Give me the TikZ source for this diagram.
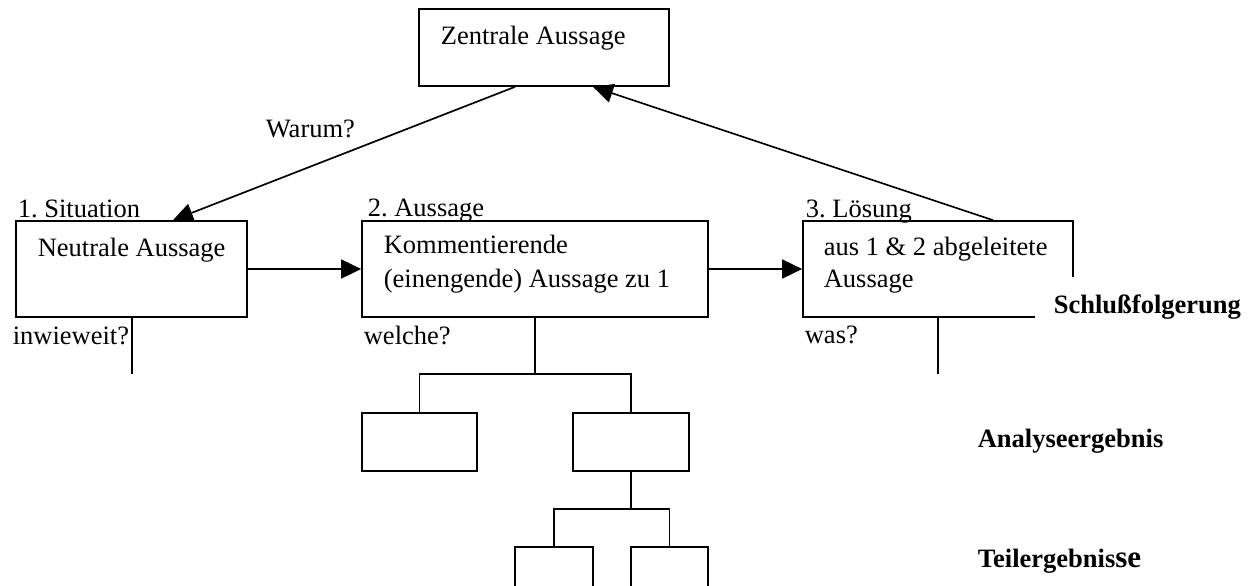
\documentclass[tikz,border=0pt]{standalone}
\usepackage{fontspec}
\setmainfont{Liberation Serif}
\usetikzlibrary{arrows.meta}
\frenchspacing
\begin{document}
\begin{tikzpicture}[x=1pt,y=-1pt,
  line width=1.7pt,
  box/.style={draw,rectangle,inner sep=0pt},
  txt/.style={inner sep=0pt,anchor=base west,font=\fontsize{26.5}{30}\selectfont},
  head/.style={txt,font=\fontsize{26.5}{30}\selectfont\bfseries},
  arr/.style={-{Triangle[length=20pt,width=19pt]}}]
\useasboundingbox (0,0) rectangle (1254,586);

% boxes
\node[box,minimum width=250pt,minimum height=77pt] (top) at (544,47.5) {};
\node[box,minimum width=231pt,minimum height=96pt] (sit) at (131.5,269) {};
\node[box,minimum width=346pt,minimum height=96pt] (aus) at (535,269) {};
\node[box,minimum width=270pt,minimum height=96pt] (loe) at (938,269) {};
\node[box,minimum width=115pt,minimum height=58pt] (a1) at (419.5,442) {};
\node[box,minimum width=116pt,minimum height=58pt] (a2) at (631,442) {};
\node[box,minimum width=78pt,minimum height=58pt] (t1) at (554,576) {};
\node[box,minimum width=77pt,minimum height=58pt] (t2) at (669.5,576) {};

% texts inside and beside the boxes
\node[txt] (tz) at (440,45) {Zentrale Aussage};
\node[txt] (l1) at (17,217) {1. Situation};
\node[txt] (tn) at (37,256) {Neutrale Aussage};
\node[txt] (q1) at (12,344) {inwieweit?};
\node[txt] (l2) at (367,216) {2. Aussage};
\node[txt] (tk1) at (383,253) {Kommentierende};
\node[txt] (tk2) at (383,287) {(einengende) Aussage zu 1};
\node[txt] (q2) at (363,344) {welche?};
\node[txt] (l3) at (805,217) {3. Lösung};
\node[txt] (tl1) at (823,255) {aus 1 \& 2 abgeleitete};
\node[txt] (tl2) at (823,287) {Aussage};
\node[txt] (q3) at (804,343) {was?};
\node[txt] (warum) at (265,137) {Warum?};

% level captions on the right
\node[head,fill=white,inner xsep=19pt,inner ysep=17pt] (cs) at (1034,313) {Schlußfolgerung};
\node[head] (ca) at (977,447) {Analyseergebnis};
\node[head] (ct) at (977,567) {Teilergebnis{\fontsize{31}{34}\selectfont se}};

% arrows
\draw[arr] (sit.east) -- (aus.west);
\draw[arr] (aus.east) -- (loe.west);
\draw[arr] ([xshift=-29pt]top.south) -- ([xshift=41.5pt]sit.north);
\draw[arr] ([xshift=55pt]loe.north) -- ([xshift=49pt]top.south);

% open ends below the three statements
\coordinate (e1) at (132,374);
\coordinate (e3) at (938,374);
\draw ([xshift=0.5pt]sit.south) -- (e1);
\draw (loe.south) -- (e3);

% tree below the second statement
\coordinate (j1) at (535,374);
\draw (aus.south) -- (j1);
\draw (a1.north) |- (j1) -| (a2.north);
\coordinate (j2) at (631,509);
\draw (a2.south) -- (j2);
\draw (t1.north) |- (j2) -| (t2.north);
\end{tikzpicture}
\end{document}
